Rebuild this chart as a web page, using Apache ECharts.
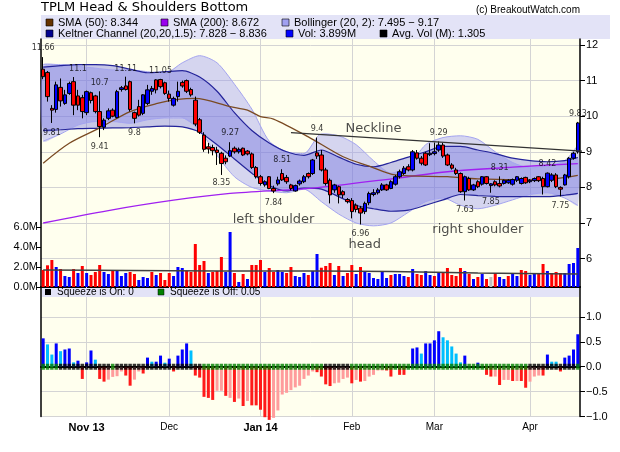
<!DOCTYPE html>
<html><head><meta charset="utf-8">
<script src="https://cdn.jsdelivr.net/npm/echarts@6/dist/echarts.min.js"></script>
<style>html,body{margin:0;padding:0;background:#fff}#c{width:620px;height:452px}</style>
</head><body><div id="c"></div>
<script>
// ---- DATA ----
// candles: [open, close, low, high]
const ohlc = [
[11.32,11.11,11.04,11.66],[11.23,10.55,10.41,11.27],[10.22,10.17,9.81,10.31],[10.19,10.88,10.10,10.97],[10.81,10.43,10.27,11.06],
[10.36,10.60,10.32,10.74],[10.64,10.92,10.60,10.97],[10.97,10.31,10.03,11.10],[10.57,10.31,10.17,10.74],[10.52,10.13,9.94,10.60],
[10.10,10.69,10.03,10.72],[10.66,10.44,10.36,10.69],[10.57,10.13,10.08,10.60],[10.13,9.71,9.41,10.70],[9.69,9.89,9.61,9.94],
[9.94,10.15,9.89,10.22],[10.17,10.00,9.97,10.22],[9.96,10.69,9.94,10.74],[10.75,10.80,10.69,10.85],[10.85,10.75,10.72,11.11],
[10.97,10.19,10.13,11.00],[10.10,9.94,9.80,10.13],[10.27,10.03,9.99,10.46],[10.08,10.60,10.03,10.62],[10.36,10.74,10.31,10.88],
[10.70,10.78,10.60,10.85],[11.02,10.74,10.64,11.04],[11.03,10.83,10.78,11.05],[10.94,10.64,10.60,10.97],[10.62,10.50,10.41,10.72],
[10.31,10.50,10.27,10.55],[10.55,10.70,10.41,10.97],[10.95,10.85,10.80,11.00],[11.00,10.70,10.65,11.03],[10.75,10.60,10.55,10.80],
[10.45,9.78,9.72,10.55],[9.90,9.55,9.50,9.95],[9.47,9.07,9.00,9.55],[9.14,9.08,8.95,9.25],[9.12,9.03,8.90,9.20],
[9.05,8.98,8.63,9.14],[8.96,8.67,8.35,9.00],[8.82,8.72,8.65,8.90],[8.88,9.03,8.85,9.27],[9.10,9.00,8.95,9.15],
[9.00,9.07,8.95,9.12],[9.10,8.91,8.88,9.12],[9.02,8.94,8.90,9.05],[8.94,8.56,8.52,8.98],[8.56,8.30,8.25,8.60],
[8.30,8.11,8.05,8.35],[8.07,8.16,8.02,8.20],[8.30,7.97,7.95,8.32],[7.97,7.90,7.84,8.05],[8.10,8.21,8.05,8.30],
[8.39,8.21,8.18,8.51],[8.28,8.16,8.10,8.35],[8.07,7.97,7.92,8.10],[7.90,8.05,7.88,8.08],[8.10,8.18,8.05,8.22],
[8.16,8.30,8.12,8.35],[8.39,8.30,8.25,8.42],[8.39,8.77,8.35,8.80],[8.97,8.88,8.80,9.40],[8.91,8.49,8.45,9.05],
[8.49,8.11,8.05,8.55],[8.20,7.79,7.55,8.25],[7.93,8.07,7.85,8.10],[8.02,7.79,7.55,8.05],[7.88,7.79,7.70,7.92],
[7.66,7.60,7.55,7.70],[7.63,7.32,7.13,7.70],[7.50,7.38,7.30,7.55],[7.42,7.28,6.96,7.48],[7.32,7.55,7.25,7.60],
[7.57,7.83,7.50,7.88],[7.80,7.85,7.75,7.95],[7.85,7.93,7.80,7.98],[7.93,8.07,7.90,8.12],[8.07,7.93,7.90,8.10],
[7.97,8.16,7.95,8.20],[8.09,8.30,8.05,8.35],[8.30,8.44,8.25,8.50],[8.39,8.54,8.35,8.60],[8.58,8.49,8.45,8.65],
[8.49,9.00,8.45,9.05],[8.97,8.82,8.78,9.05],[8.82,8.68,8.62,8.88],[8.96,8.63,8.60,9.00],[8.92,8.96,8.88,9.24],
[8.95,9.00,8.90,9.26],[9.05,9.19,9.00,9.29],[9.19,8.88,8.83,9.25],[8.91,8.63,8.60,8.95],[8.63,8.54,8.50,8.68],
[8.49,8.39,8.35,8.55],[8.39,7.88,7.85,8.42],[7.88,8.30,7.63,8.33],[8.25,7.93,7.90,8.30],[7.93,8.07,7.90,8.10],
[8.16,8.02,7.98,8.20],[8.09,8.30,8.05,8.32],[8.30,8.11,8.08,8.32],[8.05,8.10,7.85,8.12],[8.16,8.07,8.03,8.20],
[8.11,8.04,8.00,8.31],[8.11,8.20,8.08,8.22],[8.13,8.20,8.10,8.23],[8.09,8.22,8.05,8.25],[8.20,8.30,8.15,8.32],
[8.11,8.25,8.08,8.28],[8.28,8.13,8.10,8.30],[8.16,8.20,8.12,8.23],[8.19,8.25,8.15,8.28],[8.30,8.19,8.15,8.32],
[8.25,8.02,7.80,8.30],[8.02,8.40,8.00,8.42],[8.20,8.35,8.15,8.40],[8.35,8.02,7.98,8.40],[8.00,7.95,7.75,8.03],
[8.07,8.35,8.05,8.38],[8.30,8.82,8.25,8.85],[8.82,8.96,8.78,9.00],[9.00,9.81,8.95,9.84]
];
// volume in millions
const volume = [
1.7,2.17,2.7,2.0,1.8,1.1,1.0,1.8,1.4,2.1, 1.4,1.2,1.5,2.2,1.5,1.3,1.6,1.7,1.1,1.4,
1.5,1.3,0.7,1.0,0.9,1.5,1.2,1.4,0.7,1.4, 1.1,2.0,1.9,1.6,1.5,4.3,2.2,2.6,1.4,1.5,
1.6,3.0,1.5,5.5,1.4,0.5,1.3,0.8,2.2,2.2, 2.7,1.5,1.9,1.5,1.7,1.5,1.4,2.0,1.1,1.0,
1.4,1.2,1.6,3.3,1.93,2.1,2.4,1.2,2.1,1.1, 1.4,2.2,1.3,2.0,1.5,1.4,0.9,0.8,1.5,0.9,
1.2,1.3,1.3,1.1,1.0,1.8,1.3,1.2,1.6,1.2, 1.1,1.4,1.5,1.9,1.2,1.1,1.9,1.6,1.3,0.8,
1.0,1.3,0.8,1.0,1.4,1.0,0.8,1.1,1.4,1.1, 1.7,1.6,1.2,1.4,1.4,2.3,1.6,1.3,1.5,1.4,
1.4,2.3,2.4,3.899
];
const volColor = 'rrrbrbbrbr'+'brrrbbrbbb'+'rrbbbrbrrr'+'bbbrrrrrbr'+'rrbbrbrbrr'+'rbrrbbrrbb'+'brbbrrrbrb'+'rrbrbbbbbb'+'rbbbrbrrbb'+'rbrrrrrbrb'+'rbrgrbbrbb'+'rrbbrrbrrr'+'bbbb';
const avgVolIdx = [0,20,40,64,80,100,123];
const avgVol    = [1.7,1.65,1.6,1.6,1.55,1.4,1.3];
// moving averages, sampled
const sma50Idx = [0,6,13,20,26,31,35,43,47,50,53,61,69,75,81,93,100,113,118,123];
const sma50    = [8.68,9.24,9.67,10.13,10.35,10.47,10.5,10.27,10.17,9.99,9.92,9.42,8.86,8.6,8.35,8.3,8.24,8.21,8.25,8.34];
const sma200Idx = [0,15,30,43,62,82,93,108,123];
const sma200    = [7.0,7.35,7.64,7.83,7.98,8.27,8.44,8.57,8.67];
// bands, sampled at the same bars
const bandIdx = [0,4,8,12,16,20,24,28,32,36,40,44,48,52,56,60,64,68,72,76,80,84,88,92,96,100,104,108,112,116,120,123];
const kcUpper = [11.38,11.42,11.45,11.45,11.42,11.32,11.22,11.25,11.28,11.1,10.7,10.1,9.6,9.25,9.0,8.9,9.05,8.85,8.65,8.58,8.7,8.85,9.0,9.15,9.15,9.05,8.95,8.82,8.75,8.72,8.75,8.84];
const kcLower = [9.6,9.62,9.65,9.66,9.67,9.68,9.7,9.72,9.7,9.55,9.2,8.8,8.4,8.05,7.9,7.98,7.95,7.74,7.5,7.4,7.33,7.36,7.5,7.65,7.8,7.77,7.75,7.74,7.74,7.74,7.78,7.83];
const bbUpper = [11.45,11.45,11.4,11.35,11.3,11.3,11.25,11.2,11.5,11.7,11.5,10.9,10.2,9.3,9.0,8.95,9.5,9.45,9.2,8.75,8.4,8.6,9.2,9.4,9.45,9.35,9.0,8.7,8.55,8.6,8.75,9.17];
const bbLower = [9.3,9.5,9.75,9.85,9.85,9.8,9.9,9.95,9.95,9.6,8.9,8.3,8.0,7.9,7.85,7.95,7.6,7.25,7.0,6.92,7.0,7.3,7.6,7.7,7.5,7.4,7.5,7.65,7.8,7.85,7.7,7.495];
const necklineIdx = [57,128];
const neckline    = [9.54,8.99];
// squeeze momentum
const squeeze = [
0.571,0.449,0.245,0.469,0.313,0.347,0.367,0.088,0.122,-0.245,
0.088,0.327,0.143,-0.245,-0.299,-0.259,-0.204,-0.19,-0.095,-0.177,
-0.381,-0.259,-0.095,-0.136,0.184,0.102,0.102,0.224,0.082,0.163,
-0.095,0.224,0.347,0.469,0.327,-0.177,-0.218,-0.605,-0.626,-0.667,
-0.483,-0.483,-0.585,-0.626,-0.707,-0.639,-0.789,-0.687,-0.776,-0.776,
-0.864,-1.014,-1.068,-1.027,-0.878,-0.558,-0.524,-0.469,-0.415,-0.381,
-0.245,-0.177,-0.095,-0.109,-0.197,-0.354,-0.388,-0.333,-0.32,-0.245,
-0.218,-0.333,-0.265,-0.299,-0.286,-0.197,-0.163,-0.075,-0.075,-0.075,
-0.197,0,-0.163,-0.163,0,0.367,0.388,0.265,0.469,0.469,
0.531,0.714,0.592,0.531,0.408,0.265,0.088,0.224,0,0,
0.082,0,-0.163,-0.197,-0.197,-0.367,-0.265,-0.265,-0.286,-0.286,
-0.286,-0.422,-0.299,-0.197,-0.177,-0.177,0.245,0.102,0.102,-0.095,
0.184,0.224,0.347,0.653
];
const squeezeColor = 'BLLBLBBLBR'+'BBLRRPPPPR'+'RPPRBLBBLB'+'RBBBLRRRRR'+'PPRPRPRPRR'+'RRRPPPPPPP'+'PPPRRRRPPP'+'PRPRPPPPPR'+'RBRRBBBLBB'+'BBLLLLLBBB'+'BBRRPRPPRP'+'RRPPPRBLLR'+'BBBB';
const squeezeDot   = 'ggggkkkkkk'+'kkkkkkgkkk'+'kkkkkkkkkk'+'kkkkkkkggg'+'gggggggggg'+'gggggggggg'+'gggggkkkkk'+'kggggggggg'+'gggggggggg'+'gggggggggg'+'gggggggggg'+'ggkkkkkkkk'+'kkkg';
// axis ticks
const priceTicks = [6,7,8,9,10,11,12];
const volTicks = [0,2,4,6];
const sqTicks = [-1,-0.5,0,0.5,1];
const monthIdx  = [10,29,50,71,90,112];
const monthText = ['Nov 13','Dec','Jan 14','Feb','Mar','Apr'];
const monthBold = [1,0,1,0,0,0];
// annotations: [x index, price, text]
const valueLabels = [
[0.1,11.92,'11.66'],[7.8,11.33,'11.1'],[13.25,10.94,'10.7'],[19.3,11.33,'11.11'],[27.3,11.28,'11.05'],
[1.96,9.53,'9.81'],[13.0,9.14,'9.41'],[21.2,9.53,'9.8'],[43.0,9.52,'9.27'],[41.1,8.12,'8.35'],
[54.9,8.77,'8.51'],[52.9,7.55,'7.84'],[63.3,9.63,'9.4'],[72.9,6.69,'6.96'],[91.0,9.54,'9.29'],
[97.3,7.38,'7.63'],[103.3,7.6,'7.85'],[105.2,8.55,'8.31'],[116.1,8.65,'8.42'],[119.2,7.48,'7.75'],[122.5,10.05,'9.83']
];
const textNotes = [[75.6,9.66,'Neckline'],[53.4,7.1,'left shoulder'],[74.0,6.38,'head'],[100.1,6.82,'right shoulder']];

// ---- CHART ----
const cats = ohlc.map((_, i) => String(i));
const pairs = (xs, ys) => xs.map((x, k) => [x, ys[k]]);
const volCol = {r:'#ff0000', b:'#0000ff', g:'#c0c0c0'};
const sqCol = {B:'#0000ff', L:'#00bfff', R:'#ff1a1a', P:'#ff9c9c'};
const dotCol = {k:'#000000', g:'#008000'};
const vgrid = monthIdx.map(i => ({xAxis: i}));
const vLineCfg = {silent:true, symbol:'none', label:{show:false}, lineStyle:{color:'#d4d4d4', width:1, type:'solid'}, data: vgrid};

function band(upper, lower, fill) {
  return function (params, api) {
    const up = pairs(bandIdx, upper).map(p => api.coord(p));
    const lo = pairs(bandIdx, lower).map(p => api.coord(p)).reverse();
    return {type:'polygon', shape:{points: up.concat(lo), smooth: 0.25}, style:{fill: fill}};
  };
}
const FONT = 'Liberation Sans, Arial, sans-serif';
const chart = echarts.init(document.getElementById('c'), null, {renderer:'canvas'});
const frameAxis = (g, pos) => ({type:'value', gridIndex:g, position:pos, axisLine:{show:true, onZero:false, lineStyle:{color:'#000', width:1.5}}, axisTick:{show:false}, axisLabel:{show:false}, splitLine:{show:false}});
const legendItems = [
  [46, 19, '#663300', 'SMA (50): 8.344'],
  [161, 19, '#9900ee', 'SMA (200): 8.672'],
  [282, 19, '#a0a0f0', 'Bollinger (20, 2): 7.495 \u2212 9.17'],
  [46, 30, '#000090', 'Keltner Channel (20,20,1.5): 7.828 \u2212 8.836'],
  [286, 30, '#0000ff', 'Vol: 3.899M'],
  [380, 30, '#000000', 'Avg. Vol (M): 1.305']
];
const graphics = [
  {type:'text', left:41, top:1, style:{text:'TPLM Head & Shoulders Bottom', font:'13px DejaVu Sans', fill:'#000'}},
  {type:'text', x:580, y:5, style:{text:'(c) BreakoutWatch.com', font:'10px ' + FONT, fill:'#000', textAlign:'right'}},
  {type:'rect', shape:{x:41, y:15, width:569, height:24}, style:{fill:'#e3e3f7'}, z:0}
];
legendItems.forEach(it => {
  graphics.push({type:'rect', shape:{x:it[0], y:it[1], width:7, height:7}, style:{fill:it[2], stroke:'#000', lineWidth:0.6}});
  graphics.push({type:'text', x:it[0] + 12, y:it[1] - 2, style:{text:it[3], font:'11px ' + FONT, fill:'#000'}});
});
graphics.push(
  {type:'rect', shape:{x:42, y:288, width:537, height:9}, style:{fill:'#e3e3f7'}, z:50},
  {type:'rect', shape:{x:45, y:289, width:6, height:6}, style:{fill:'#000'}, z:51},
  {type:'text', x:57, y:287, style:{text:'Squeeze is On: 0', font:'10px ' + FONT, fill:'#000'}, z:51},
  {type:'rect', shape:{x:158, y:289, width:6, height:6}, style:{fill:'#008000', stroke:'#000', lineWidth:0.5}, z:51},
  {type:'text', x:170, y:287, style:{text:'Squeeze is Off: 0.05', font:'10px ' + FONT, fill:'#000'}, z:51}
);

chart.setOption({
  animation: false,
  backgroundColor: '#ffffff',
  textStyle: {fontFamily: FONT},
  grid: [
    {left:41, top:39, width:539, height:248, show:true, backgroundColor:'#ffffee', borderWidth:0},
    {left:41, top:45, width:539, height:213.6},
    {left:41, top:287, width:539, height:129.5, show:true, backgroundColor:'#ffffee', borderWidth:0}
  ],
  xAxis: [
    {type:'category', gridIndex:0, data:cats, boundaryGap:true, axisLine:{show:true, lineStyle:{color:'#000', width:2}}, axisTick:{show:false}, axisLabel:{show:false}, splitLine:{show:false}},
    {type:'category', gridIndex:1, data:cats, boundaryGap:true, show:false},
    {type:'category', gridIndex:2, data:cats, boundaryGap:true, axisLine:{show:true, lineStyle:{color:'#000', width:2}}, axisTick:{show:false}, splitLine:{show:false},
      axisLabel:{show:true, margin:6, color:'#000', fontSize:10, fontFamily:FONT,
        interval:(i) => monthIdx.indexOf(i) >= 0,
        formatter:(v, i) => { const k = monthIdx.indexOf(i); if (k < 0) return ''; return monthBold[k] ? '{b|' + monthText[k] + '}' : monthText[k]; },
        rich:{b:{fontWeight:'bold', fontSize:11, fontFamily:FONT, color:'#000'}}}}
  ],
  yAxis: [
    {type:'value', gridIndex:0, position:'left', min:0, max:24.8, axisLine:{show:true, lineStyle:{color:'#000', width:1.5}},
      axisTick:{show:true, inside:false, length:5, customValues:volTicks, lineStyle:{color:'#000'}},
      axisLabel:{show:true, customValues:volTicks, formatter:(v) => v.toFixed(1) + 'M', color:'#000', fontSize:11, margin:3}, splitLine:{show:false}},
    frameAxis(0, 'right'),
    {type:'value', gridIndex:1, position:'right', min:6, max:12, interval:1, axisLine:{show:false},
      axisTick:{show:true, length:5, lineStyle:{color:'#000'}}, axisLabel:{color:'#000', fontSize:11, margin:6},
      splitLine:{show:true, lineStyle:{color:'#d4d4d4', width:1}}},
    {type:'value', gridIndex:2, position:'right', min:-1, max:1.603, interval:0.5, axisLine:{show:true, onZero:false, lineStyle:{color:'#000', width:1.5}},
      axisTick:{show:true, length:5, customValues:sqTicks, lineStyle:{color:'#000'}},
      axisLabel:{customValues:sqTicks, formatter:(v) => v.toFixed(1).replace('-', '\u2212'), color:'#000', fontSize:11, margin:6},
      splitLine:{show:true, lineStyle:{color:'#d4d4d4', width:1}}},
    frameAxis(2, 'left')
  ],
  series: [
    {type:'bar', name:'vol', xAxisIndex:0, yAxisIndex:0, barWidth:3, z:3,
      data: volume.map((v, i) => ({value:v, itemStyle:{color: volCol[volColor[i]]}})), markLine: Object.assign({z:1}, vLineCfg)},
    {type:'line', name:'avgvol', xAxisIndex:0, yAxisIndex:0, data:pairs(avgVolIdx, avgVol), symbol:'none', smooth:0.3, lineStyle:{color:'#404040', width:1.5}, z:4},
    {type:'custom', name:'bb', xAxisIndex:1, yAxisIndex:2, data:[0], renderItem: band(bbUpper, bbLower, 'rgba(150,150,240,0.40)'), z:5, silent:true},
    {type:'custom', name:'kc', xAxisIndex:1, yAxisIndex:2, data:[0], renderItem: band(kcUpper, kcLower, 'rgba(100,100,220,0.36)'), z:6, silent:true},
    {type:'line', xAxisIndex:1, yAxisIndex:2, data:pairs(bandIdx, bbUpper), symbol:'none', smooth:0.25, lineStyle:{color:'#a4a4f0', width:1}, z:7},
    {type:'line', xAxisIndex:1, yAxisIndex:2, data:pairs(bandIdx, bbLower), symbol:'none', smooth:0.25, lineStyle:{color:'#a4a4f0', width:1}, z:7},
    {type:'line', xAxisIndex:1, yAxisIndex:2, data:pairs(bandIdx, kcUpper), symbol:'none', smooth:0.25, lineStyle:{color:'#24249a', width:1.2}, z:8},
    {type:'line', xAxisIndex:1, yAxisIndex:2, data:pairs(bandIdx, kcLower), symbol:'none', smooth:0.25, lineStyle:{color:'#24249a', width:1.2}, z:8},
    {type:'line', xAxisIndex:1, yAxisIndex:2, data:pairs(sma200Idx, sma200), symbol:'none', smooth:0.3, lineStyle:{color:'#a020f0', width:1.3}, z:9},
    {type:'line', xAxisIndex:1, yAxisIndex:2, data:pairs(sma50Idx, sma50), symbol:'none', smooth:0.3, lineStyle:{color:'#7a4a22', width:1.3}, z:9},
    {type:'candlestick', xAxisIndex:1, yAxisIndex:2, barWidth:4, z:10,
      data: ohlc, itemStyle:{color:'#0000ff', color0:'#ff0000', borderColor:'#000', borderColor0:'#000', borderWidth:1}},
    {type:'line', xAxisIndex:1, yAxisIndex:2, data:pairs(necklineIdx, neckline), symbol:'none', clip:false, lineStyle:{color:'#333', width:1.2}, z:11},
    {type:'scatter', xAxisIndex:1, yAxisIndex:2, symbolSize:1, itemStyle:{color:'rgba(0,0,0,0)'}, z:12, silent:true,
      data: valueLabels.map(v => ({value:[v[0], v[1]], label:{show:true, position:'inside', formatter:v[2], color:'#000', fontSize:8, fontFamily:'DejaVu Sans'}}))},
    {type:'scatter', xAxisIndex:1, yAxisIndex:2, symbolSize:1, itemStyle:{color:'rgba(0,0,0,0)'}, z:12, silent:true,
      data: textNotes.map(v => ({value:[v[0], v[1]], label:{show:true, position:'inside', formatter:v[2], color:'#222', fontSize:13, fontFamily:'DejaVu Sans'}}))},
    {type:'bar', xAxisIndex:2, yAxisIndex:3, barWidth:3, z:3, clip:false,
      data: squeeze.map((v, i) => ({value:v, itemStyle:{color: sqCol[squeezeColor[i]]}})), markLine: Object.assign({z:1}, vLineCfg)},
    {type:'scatter', xAxisIndex:2, yAxisIndex:3, symbol:'rect', symbolSize:[3.5,6], z:5,
      data: squeezeDot.split('').map((c, i) => ({value:[i, 0], itemStyle:{color: dotCol[c]}}))}
  ],
  graphic: graphics
});
</script></body></html>
